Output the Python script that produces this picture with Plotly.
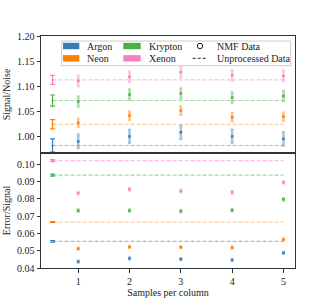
import plotly.graph_objects as go

# ---------------- data ----------------
gases = ["Argon", "Neon", "Krypton", "Xenon"]
colors = ["#377eb8", "#ff7f00", "#4daf4a", "#f781bf"]
samples = [1, 2, 3, 4, 5]
unproc_x = 0.5

# Signal/Noise (top panel)
sn_nmf = {
    "Argon":   [0.991, 1.001, 1.009, 1.001, 0.996],
    "Neon":    [1.028, 1.042, 1.052, 1.039, 1.040],
    "Krypton": [1.070, 1.084, 1.086, 1.078, 1.081],
    "Xenon":   [1.111, 1.119, 1.128, 1.122, 1.121],
}
sn_nmf_err = {"Argon": 0.013, "Neon": 0.008, "Krypton": 0.010, "Xenon": 0.010}
sn_unproc = {"Argon": 0.983, "Neon": 1.025, "Krypton": 1.072, "Xenon": 1.113}
sn_unproc_err = {"Argon": 0.013, "Neon": 0.009, "Krypton": 0.011, "Xenon": 0.009}

# Error/Signal (bottom panel)
es_nmf = {
    "Argon":   [0.0437, 0.0456, 0.0451, 0.0446, 0.0487],
    "Neon":    [0.0512, 0.0522, 0.0520, 0.0518, 0.0565],
    "Krypton": [0.0732, 0.0732, 0.0729, 0.0734, 0.0797],
    "Xenon":   [0.0833, 0.0855, 0.0845, 0.0838, 0.0895],
}
es_nmf_err = {"Argon": 0.0005, "Neon": 0.0005, "Krypton": 0.0006, "Xenon": 0.0007}
es_unproc = {"Argon": 0.0554, "Neon": 0.0666, "Krypton": 0.0937, "Xenon": 0.1021}
es_unproc_err = {"Argon": 0.0005, "Neon": 0.0002, "Krypton": 0.0006, "Xenon": 0.0006}

sn_ticks = [1.00, 1.05, 1.10, 1.15, 1.20]
es_ticks = [0.04, 0.05, 0.06, 0.07, 0.08, 0.09, 0.10]

FONT = "Liberation Serif, Times New Roman, serif"
TXT = "#222222"


def rgba(hexc, a):
    h = hexc.lstrip("#")
    r, g, b = int(h[0:2], 16), int(h[2:4], 16), int(h[4:6], 16)
    return f"rgba({r},{g},{b},{a})"


fig = go.Figure()

panels = [
    ("x", "y", sn_nmf, sn_nmf_err, sn_unproc, sn_unproc_err),
    ("x2", "y2", es_nmf, es_nmf_err, es_unproc, es_unproc_err),
]
for xa, ya, nmf, nmf_err, unp, unp_err in panels:
    for g, c in zip(gases, colors):
        # dashed unprocessed level
        fig.add_trace(go.Scatter(
            x=[unproc_x, samples[-1]], y=[unp[g], unp[g]], xaxis=xa, yaxis=ya,
            mode="lines", line=dict(color=rgba(c, 0.5), width=1.1, dash="4px,2px"),
            showlegend=False, hoverinfo="skip"))
        # unprocessed point with error bar
        fig.add_trace(go.Scatter(
            x=[unproc_x], y=[unp[g]], xaxis=xa, yaxis=ya, mode="markers",
            marker=dict(color=c, size=2),
            error_y=dict(type="constant", value=unp_err[g], color=c,
                         thickness=1.2, width=2.5),
            showlegend=False))
        # NMF points with thick translucent error bars
        fig.add_trace(go.Scatter(
            x=samples, y=nmf[g], xaxis=xa, yaxis=ya, mode="markers",
            marker=dict(color=c, size=2.5, symbol="square"),
            error_y=dict(type="constant", value=nmf_err[g], color=rgba(c, 0.45),
                         thickness=2.5, width=1.5),
            showlegend=False))

W, H = 328, 302
L, R, T, B = 41, 33, 36, 34
PW, PH = W - L - R, H - T - B
split = (268 - 153) / PH


def px(x):
    return (x - L) / PW


def py(y):
    return (H - B - y) / PH


axis_common = dict(showgrid=False, zeroline=False, showline=True, linecolor="#333",
                   linewidth=1, mirror=True, ticklen=3.5, automargin=False,
                   tickcolor="#333", tickfont=dict(family=FONT, size=10, color=TXT))

fig.update_layout(
    width=W, height=H, margin=dict(l=L, r=R, t=T, b=B),
    paper_bgcolor="white", plot_bgcolor="white", showlegend=False,
    font=dict(family=FONT, size=10, color=TXT),
    xaxis=dict(**axis_common, domain=[0, 1], range=[0.275, 5.225], anchor="y",
               showticklabels=False, ticks="", tickvals=samples),
    yaxis=dict(**axis_common, domain=[split, 1], range=[0.968, 1.2], anchor="x",
               ticks="outside", tickvals=sn_ticks, tickformat=".2f",
               title=dict(text="Signal/Noise", font=dict(family=FONT, size=10, color=TXT), standoff=4)),
    xaxis2=dict(**axis_common, domain=[0, 1], range=[0.275, 5.225], anchor="y2",
                ticks="outside", tickvals=samples,
                title=dict(text="Samples per column", font=dict(family=FONT, size=10, color=TXT), standoff=2)),
    yaxis2=dict(**axis_common, domain=[0, split], range=[0.04, 0.1065], anchor="x2",
                ticks="outside", tickvals=es_ticks, tickformat=".2f",
                title=dict(text="Error/Signal", font=dict(family=FONT, size=10, color=TXT), standoff=4)),
)

# ---------------- manual legend ----------------
shapes = []
annotations = []
shapes.append(dict(type="rect", xref="paper", yref="paper",
                   x0=px(61.7), x1=px(290.7), y0=py(65.7), y1=py(41),
                   line=dict(color="#cccccc", width=1), fillcolor="rgba(255,255,255,0.8)",
                   layer="above"))
row_y = [46, 58.3]
patch_x = [(63, 79.3), (123.3, 140.7)]
text_x = [85, 146.7]
for i, (g, c) in enumerate(zip(gases, colors)):
    col, row = i // 2, i % 2
    yc = row_y[row]
    shapes.append(dict(type="rect", xref="paper", yref="paper",
                       x0=px(patch_x[col][0]), x1=px(patch_x[col][1]),
                       y0=py(yc + 3.2), y1=py(yc - 3.2),
                       line=dict(width=0), fillcolor=c, layer="above"))
    annotations.append(dict(xref="paper", yref="paper", x=px(text_x[col]), y=py(yc),
                            text=g, showarrow=False, xanchor="left", yanchor="middle",
                            font=dict(family=FONT, size=10, color=TXT)))
shapes.append(dict(type="circle", xref="paper", yref="paper",
                   x0=px(197.3), x1=px(202.7), y0=py(48.7), y1=py(43.3),
                   line=dict(color="#222", width=1), fillcolor="rgba(0,0,0,0)", layer="above"))
shapes.append(dict(type="line", xref="paper", yref="paper",
                   x0=px(192.7), x1=px(206.5), y0=py(58.3), y1=py(58.3),
                   line=dict(color="#222", width=1, dash="3px,2px"), layer="above"))
annotations.append(dict(xref="paper", yref="paper", x=px(215), y=py(46),
                        text="NMF Data", showarrow=False, xanchor="left", yanchor="middle",
                        font=dict(family=FONT, size=10, color=TXT)))
annotations.append(dict(xref="paper", yref="paper", x=px(215), y=py(58.3),
                        text="Unprocessed Data", showarrow=False, xanchor="left", yanchor="middle",
                        font=dict(family=FONT, size=10, color=TXT)))
fig.update_layout(shapes=shapes, annotations=annotations)

fig.write_html("out.html", config={"displayModeBar": False},
               post_script="document.body.style.margin='0';document.body.style.overflow='hidden';")
